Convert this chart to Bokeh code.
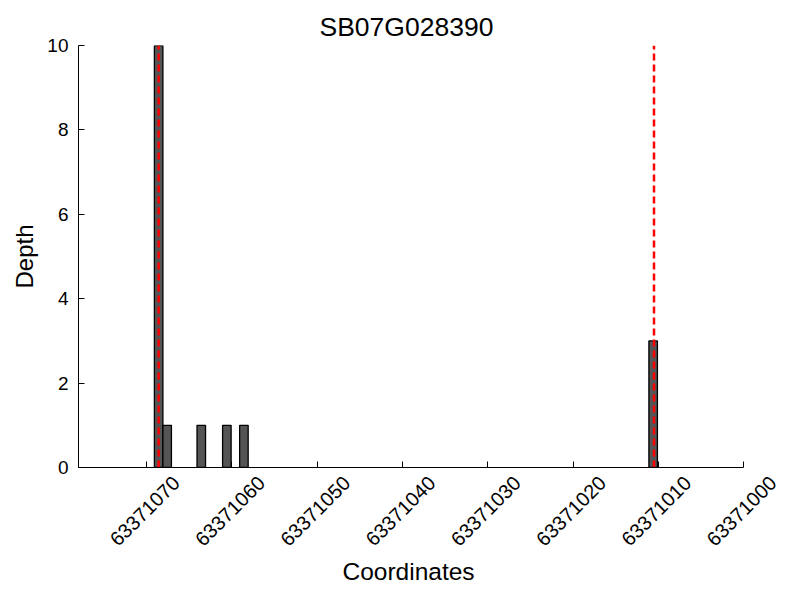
import math
from bokeh.plotting import figure
from bokeh.models import (Range1d, FixedTicker, BasicTickFormatter, ColumnDataSource,
                          LinearAxis, Title)
from bokeh.embed import file_html
from bokeh.resources import INLINE

# data
bin_centers = [63371068.6, 63371067.6, 63371063.6, 63371060.6, 63371058.6, 63371010.6]
depths = [10, 1, 1, 1, 1, 3]
bin_width = 1.0
boundaries = [63371068.6, 63371010.5]
x_ticks = [63371070, 63371060, 63371050, 63371040, 63371030, 63371020, 63371010, 63371000]
y_ticks = [0, 2, 4, 6, 8, 10]
x_start, x_end = 63371078, 63371000

FONT = "Liberation Sans"
W, H = 792, 592
extra = 3.75          # extra (blank) view room right of the axis end, for the last label
shift = 3.46          # label axis offset so the rotated labels sit centred under ticks

p = figure(width=W, height=H, output_backend="svg", toolbar_location=None,
           x_range=Range1d(x_start, x_end - extra), y_range=Range1d(0, 10),
           x_axis_location=None,
           min_border_left=78, min_border_right=W - 775, min_border_top=45,
           min_border_bottom=H - 467)
p.outline_line_color = None
p.xgrid.visible = False
p.ygrid.visible = False
p.background_fill_color = "white"

p.title.text = "SB07G028390"
p.title.align = "left"
p.title.offset = 241
p.title.text_font = FONT
p.title.text_font_size = "26.5px"
p.title.text_font_style = "normal"
p.title.text_color = "black"
p.title.standoff = 7

src = ColumnDataSource(dict(x=bin_centers, top=depths))
p.vbar(x="x", top="top", bottom=0, width=bin_width, source=src,
       fill_color="#555555", line_color="black", line_width=1.3)

for b in boundaries:
    p.line(x=[b, b], y=[0, 10], line_color="red", line_width=2.5, line_dash="7 4")

# tick axis (line + inward ticks), limited to the data extent
xa = LinearAxis(ticker=FixedTicker(ticks=x_ticks, minor_ticks=[]), bounds=(x_end, x_start))
xa.major_label_text_alpha = 0
xa.major_label_text_font_size = "1px"
xa.major_label_standoff = 0
xa.major_tick_in = 6
xa.major_tick_out = 0
xa.minor_tick_line_color = None
xa.axis_line_color = "black"
p.add_layout(xa, "below")

# label axis: same tick values, rotated labels
p.extra_x_ranges = {"lab": Range1d(x_start + shift, x_end - extra + shift)}
la = LinearAxis(x_range_name="lab", ticker=FixedTicker(ticks=x_ticks, minor_ticks=[]),
                formatter=BasicTickFormatter(use_scientific=False))
la.axis_line_color = None
la.major_tick_line_color = None
la.minor_tick_line_color = None
la.major_tick_in = 0
la.major_tick_out = 0
la.major_label_orientation = math.pi / 4
la.major_label_standoff = 12
la.major_label_text_font = FONT
la.major_label_text_font_size = "20px"
la.major_label_text_color = "black"
p.add_layout(la, "below")

xlabel = Title(text="Coordinates", align="left", offset=264, standoff=0,
               text_font=FONT, text_font_size="24.5px", text_font_style="normal",
               text_color="black")
p.add_layout(xlabel, "below")

ya = p.yaxis[0]
ya.ticker = FixedTicker(ticks=y_ticks, minor_ticks=[])
ya.axis_label = "Depth"
ya.major_label_standoff = 10
ya.axis_label_standoff = 6
ya.major_tick_in = 6
ya.major_tick_out = 0
ya.minor_tick_line_color = None
ya.axis_line_color = "black"
ya.major_label_text_font = FONT
ya.major_label_text_font_size = "19px"
ya.major_label_text_color = "black"
ya.axis_label_text_font = FONT
ya.axis_label_text_font_size = "24px"
ya.axis_label_text_font_style = "normal"
ya.axis_label_text_color = "black"

open("out.html", "w").write(file_html(p, INLINE))
